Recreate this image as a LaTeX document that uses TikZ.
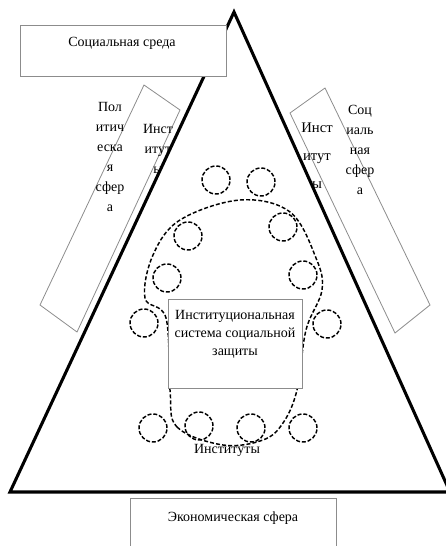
\documentclass[tikz,border=0pt]{standalone}
\usepackage{fontspec}
\setmainfont{Liberation Serif}
\usetikzlibrary{shapes}

\tikzset{
  sphere/.style={draw=black!45, line width=0.6pt},
  label/.style={inner sep=0.75pt, font=\fontsize{10.5}{15}\selectfont, align=center},
  inst/.style={circle, draw, dash pattern=on 3pt off 1.4pt, line width=1.1pt, minimum size=21pt, inner sep=0pt},
}

\begin{document}
\begin{tikzpicture}[x=0.75pt,y=0.75pt,yscale=-1,xscale=1]
\useasboundingbox (0,0) rectangle (446,546);

%Shape: Rectangle tilted, political sphere
\draw [sphere]  (144,85) -- (180,110) -- (77,332) -- (40,305) -- cycle ;
%Shape: Rectangle tilted, social sphere
\draw [sphere]  (325,88) -- (290,113) -- (395,333) -- (430,305) -- cycle ;

% Text Node
\node [label] (polit) at (110,157) {Пол\\итич\\еска\\я\\сфер\\а};
% Text Node
\node [label] (instl) at (158,149) {Инст\\итут\\ы};
% Text Node
\node [label] (socsf) at (360,150) {Соц\\иаль\\ная\\сфер\\а};
% Text Node
\node [label, font=\fontsize{11}{21}\selectfont] (instr) at (317,156) {Инст\\итут\\ы};

%Shape: Triangle
\draw [line width=2.3pt, fill=white, line join=miter]  (234,12) -- (450,492) -- (10,492) -- cycle ;

%Shape: Circles of institutes
\node [inst] (c1) at (216,180) {};
\node [inst] (c2) at (261,182) {};
\node [inst] (c3) at (283,227) {};
\node [inst] (c4) at (188,236) {};
\node [inst] (c5) at (167,278) {};
\node [inst] (c6) at (303,275) {};
\node [inst] (c7) at (144,323) {};
\node [inst] (c8) at (327,324) {};
\node [inst] (c9) at (153,428) {};
\node [inst] (c10) at (199,426) {};
\node [inst] (c11) at (251,428) {};
\node [inst] (c12) at (303,428) {};

%Shape: Dashed contour
\draw [dash pattern=on 3pt off 1.6pt, line width=1.1pt] plot [smooth cycle, tension=0.6] coordinates {
  (170,390) (177,427) (223,445) (263,440) (283,423) (297,390) (306,330)
  (322,290) (316,258) (290,212) (240,200) (180,220) (153,255) (145,298) (166,318) };

%Shape: Central box
\draw [sphere, fill=white]  (168,299) rectangle (302,388) ;
% Text Node
\node [label, font=\fontsize{10.5}{13.5}\selectfont] (system) at (235,334) {Институциональная\\система социальной\\защиты};

% Text Node
\node [label] (inst) at (227,450) {Институты};

%Shape: Box social environment
\draw [sphere, fill=white]  (20,25) rectangle (226,76) ;
% Text Node
\node [label] (env) at (122,43) {Социальная среда};

%Shape: Box economic sphere
\draw [sphere, fill=white]  (130,498) rectangle (336,560) ;
% Text Node
\node [label] (econ) at (233,518) {Экономическая сфера};

\end{tikzpicture}
\end{document}
